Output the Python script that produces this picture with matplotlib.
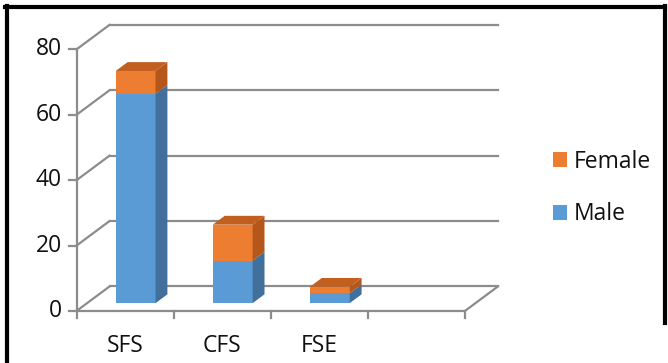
import numpy as np
import matplotlib
matplotlib.use('Agg')
import matplotlib.pyplot as plt
from matplotlib.patches import Polygon, Patch
from matplotlib.lines import Line2D

plt.rcParams['font.family'] = ['Open Sans', 'DejaVu Sans']

categories = ['SFS', 'CFS', 'FSE']
male = [64, 13, 3]
female = [7, 11, 2]
y_ticks = [0, 20, 40, 60, 80]
n_slots = 4

# 3d look: depth shift of the back wall, in data units
DX, DY = 0.34, 7.5
d0, bd = 0.32, 0.36   # bar position / depth inside the box
bw = 0.41

blue, blue_side = '#5B9BD5', '#41709C'
orange, orange_side, orange_top = '#ED7D31', '#B5561A', '#C25E1E'
grid_c = '#8C8C8C'
txt_c = '#111111'
fs = 16.5

fig = plt.figure(figsize=(6.68, 3.63), dpi=100)
ax = fig.add_axes([0, 0, 1, 1])
ax.set_xlim(-0.788, 6.092)
ax.set_ylim(-15.9, 95.1)
ax.axis('off')

lw = 1.6
for v in y_ticks:
    ax.plot([0, DX], [v, v + DY], color=grid_c, lw=lw, zorder=1)
    ax.plot([DX, n_slots + DX], [v + DY, v + DY], color=grid_c, lw=lw, zorder=1)
    ax.plot([-0.08, 0], [v, v], color=grid_c, lw=lw, zorder=1)
    ax.text(-0.15, v, str(v), ha='right', va='center', fontsize=fs, color=txt_c)
ax.plot([0, 0], [0, y_ticks[-1]], color=grid_c, lw=lw, zorder=1)
ax.plot([0, n_slots], [0, 0], color=grid_c, lw=lw, zorder=1)
ax.plot([n_slots, n_slots + DX], [0, DY], color=grid_c, lw=lw, zorder=1)
for i in range(n_slots + 1):
    ax.plot([i, i], [0, -2.2], color=grid_c, lw=lw, zorder=1)

centers = np.arange(len(categories)) + 0.5
for c, lab in zip(centers, categories):
    ax.text(c, -10.6, lab, ha='center', va='center', fontsize=fs, color=txt_c)

xs = centers + d0 * DX
base = d0 * DY
ax.bar(xs, male, bw, bottom=base, color=blue, zorder=3)
ax.bar(xs, female, bw, bottom=base + np.array(male), color=orange, zorder=3)

def side(xr, y0, y1, col):
    ax.add_patch(Polygon([(xr, y0), (xr, y1), (xr + bd * DX, y1 + bd * DY),
                          (xr + bd * DX, y0 + bd * DY)], closed=True,
                         facecolor=col, edgecolor='none', zorder=3))

for x, m, f in zip(xs, male, female):
    xl, xr = x - bw / 2, x + bw / 2
    side(xr, base, base + m, blue_side)
    side(xr, base + m, base + m + f, orange_side)
    top = base + m + f
    ax.add_patch(Polygon([(xl, top), (xr, top), (xr + bd * DX, top + bd * DY),
                          (xl + bd * DX, top + bd * DY)], closed=True,
                         facecolor=orange_top, edgecolor='none', zorder=3))

handles = [Patch(facecolor=orange, label='Female'), Patch(facecolor=blue, label='Male')]
fig.legend(handles=handles, loc='center left', bbox_to_anchor=(553 / 668, 0.482),
           frameon=False, fontsize=fs, labelcolor=txt_c, handlelength=0.6,
           handleheight=0.65, handletextpad=0.3, labelspacing=1.25,
           borderpad=0, borderaxespad=0)

# outer frame (left, top, right)
fig.add_artist(Line2D([0.0105, 0.0105], [0, 0.983], color='black', lw=3, transform=fig.transFigure))
fig.add_artist(Line2D([0.008, 0.995], [0.981, 0.981], color='black', lw=3, transform=fig.transFigure))
fig.add_artist(Line2D([0.995, 0.995], [0.11, 0.983], color='black', lw=3, transform=fig.transFigure))

fig.savefig('out.png', dpi=100)
